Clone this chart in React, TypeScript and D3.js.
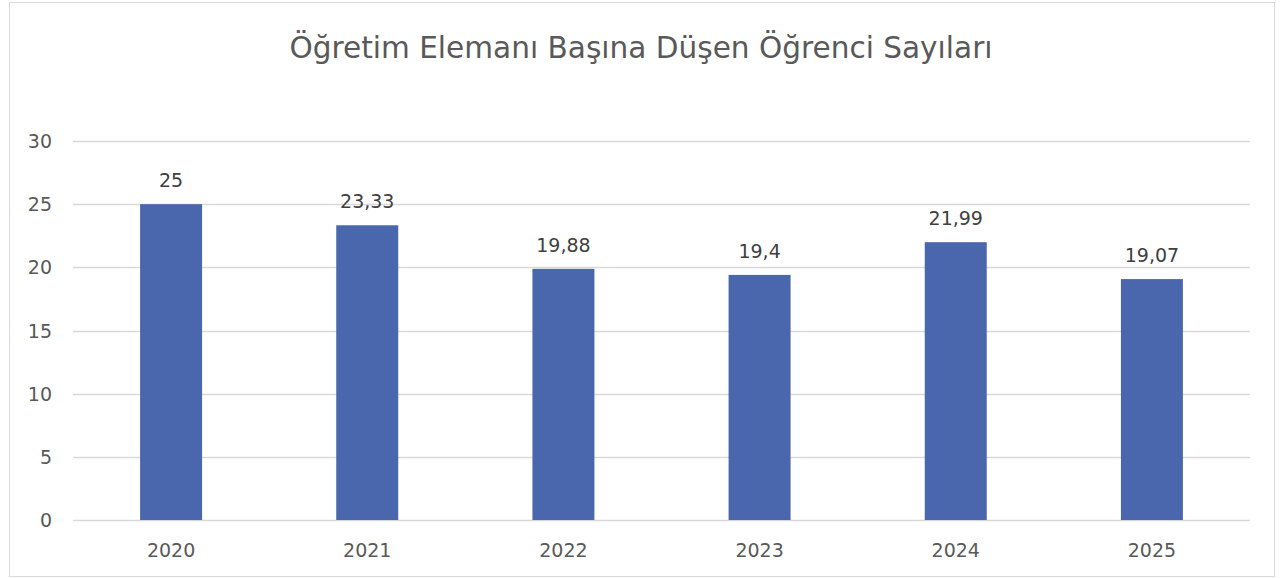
import { useEffect, useRef } from "react";
import * as d3 from "d3";

const years = ["2020", "2021", "2022", "2023", "2024", "2025"];
const ratios = [25, 23.33, 19.88, 19.4, 21.99, 19.07];
const yTicks = [0, 5, 10, 15, 20, 25, 30];
const title = "Öğretim Elemanı Başına Düşen Öğrenci Sayıları";

const W = 1281;
const H = 578;
const FONT = "'DejaVu Sans', sans-serif";

export default function App() {
  const svgRef = useRef<SVGSVGElement | null>(null);

  useEffect(() => {
    document.body.style.margin = "0";
    if (!svgRef.current) return;
    const svg = d3.select(svgRef.current);
    svg.selectAll("*").remove();

    const plot = { left: 73, right: 1250, top: 141, bottom: 520 };

    const x = d3
      .scaleBand()
      .domain(years)
      .range([plot.left, plot.right])
      .paddingInner(0.684)
      .paddingOuter(0.342);
    const y = d3.scaleLinear().domain([0, 30]).range([plot.bottom, plot.top]);

    // chart border
    svg
      .append("rect")
      .attr("x", 9.5)
      .attr("y", 2.5)
      .attr("width", 1265)
      .attr("height", 574)
      .attr("fill", "#fff")
      .attr("stroke", "#d9d9d9");

    // title
    svg
      .append("text")
      .attr("x", 641)
      .attr("y", 58)
      .attr("text-anchor", "middle")
      .attr("font-family", FONT)
      .attr("font-size", 30)
      .attr("fill", "#595959")
      .attr("textLength", 703)
      .attr("lengthAdjust", "spacingAndGlyphs")
      .text(title);

    // gridlines
    svg
      .append("g")
      .selectAll("line")
      .data(yTicks)
      .enter()
      .append("line")
      .attr("x1", plot.left)
      .attr("x2", plot.right)
      .attr("y1", (d) => Math.round(y(d)) + 0.5)
      .attr("y2", (d) => Math.round(y(d)) + 0.5)
      .attr("stroke", "#d9d9d9")
      .attr("stroke-width", 1.5);

    // y tick labels
    svg
      .append("g")
      .selectAll("text")
      .data(yTicks)
      .enter()
      .append("text")
      .attr("x", 52)
      .attr("y", (d) => y(d) + 7)
      .attr("text-anchor", "end")
      .attr("font-family", FONT)
      .attr("font-size", 19)
      .attr("fill", "#595959")
      .text((d) => d);

    // bars
    svg
      .append("g")
      .selectAll("rect")
      .data(ratios)
      .enter()
      .append("rect")
      .attr("x", (_, i) => x(years[i])!)
      .attr("y", (d) => y(d))
      .attr("width", x.bandwidth())
      .attr("height", (d) => plot.bottom - y(d))
      .attr("fill", "#4a66ac");

    // data labels
    svg
      .append("g")
      .selectAll("text")
      .data(ratios)
      .enter()
      .append("text")
      .attr("x", (_, i) => x(years[i])! + x.bandwidth() / 2)
      .attr("y", (d) => y(d) - 17)
      .attr("text-anchor", "middle")
      .attr("font-family", FONT)
      .attr("font-size", 19)
      .attr("fill", "#404040")
      .text((d) => String(d).replace(".", ","));

    // x labels
    svg
      .append("g")
      .selectAll("text")
      .data(years)
      .enter()
      .append("text")
      .attr("x", (d) => x(d)! + x.bandwidth() / 2)
      .attr("y", 557)
      .attr("text-anchor", "middle")
      .attr("font-family", FONT)
      .attr("font-size", 19)
      .attr("fill", "#595959")
      .text((d) => d);
  }, []);

  return <svg ref={svgRef} width={W} height={H} style={{ display: "block" }} />;
}
